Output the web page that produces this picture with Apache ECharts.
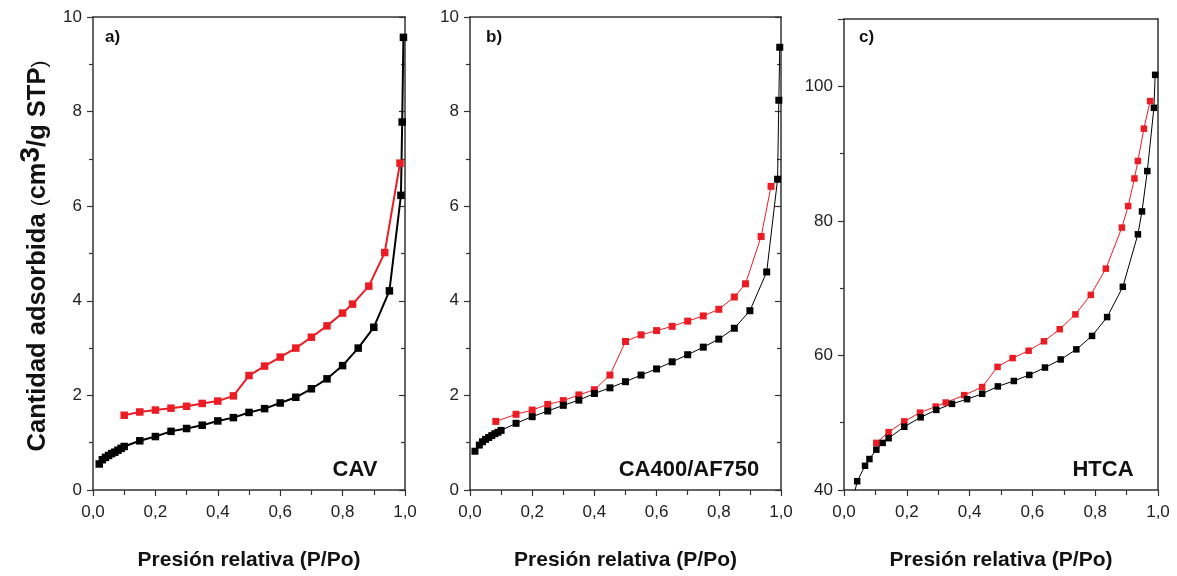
<!DOCTYPE html>
<html>
<head>
<meta charset="utf-8">
<script src="https://cdn.jsdelivr.net/npm/echarts@6/dist/echarts.min.js"></script>
<style>
html,body{margin:0;padding:0;background:#fff;}
#chart{width:1177px;height:576px;}
</style>
</head>
<body>
<div id="chart"></div>
<script>
// ---- Data ----
var xTickLabels = ['0,0', '0,2', '0,4', '0,6', '0,8', '1,0'];
var panelLabels = ['a)', 'b)', 'c)'];
var sampleNames = ['CAV', 'CA400/AF750', 'HTCA'];

// Panel a (CAV)
var cavAdsX = [0.02, 0.03, 0.04, 0.05, 0.06, 0.07, 0.08, 0.09, 0.10, 0.15, 0.20, 0.25, 0.30, 0.35, 0.40, 0.45, 0.50, 0.55, 0.60, 0.65, 0.70, 0.75, 0.80, 0.85, 0.90, 0.95, 0.987, 0.991, 0.995];
var cavAdsY = [0.55, 0.64, 0.69, 0.73, 0.77, 0.80, 0.84, 0.88, 0.92, 1.04, 1.13, 1.24, 1.30, 1.37, 1.46, 1.53, 1.64, 1.72, 1.84, 1.96, 2.14, 2.35, 2.63, 3.00, 3.44, 4.21, 6.23, 7.78, 9.57];
var cavDesX = [0.10, 0.15, 0.20, 0.25, 0.30, 0.35, 0.40, 0.45, 0.50, 0.55, 0.60, 0.65, 0.70, 0.75, 0.80, 0.832, 0.884, 0.935, 0.984];
var cavDesY = [1.58, 1.65, 1.69, 1.73, 1.77, 1.83, 1.88, 1.99, 2.42, 2.62, 2.81, 3.00, 3.23, 3.47, 3.74, 3.93, 4.31, 5.02, 6.91];

// Panel b (CA400/AF750)
var caAdsX = [0.016, 0.03, 0.04, 0.05, 0.06, 0.07, 0.08, 0.09, 0.10, 0.148, 0.20, 0.25, 0.30, 0.35, 0.40, 0.45, 0.50, 0.55, 0.60, 0.65, 0.70, 0.75, 0.80, 0.85, 0.90, 0.954, 0.989, 0.993, 0.996];
var caAdsY = [0.82, 0.95, 1.02, 1.07, 1.11, 1.15, 1.19, 1.22, 1.26, 1.41, 1.55, 1.67, 1.79, 1.90, 2.04, 2.16, 2.29, 2.43, 2.56, 2.71, 2.86, 3.02, 3.19, 3.42, 3.79, 4.61, 6.57, 8.24, 9.36];
var caDesX = [0.083, 0.148, 0.20, 0.25, 0.30, 0.35, 0.40, 0.45, 0.50, 0.55, 0.60, 0.65, 0.70, 0.75, 0.80, 0.85, 0.886, 0.936, 0.968];
var caDesY = [1.45, 1.60, 1.69, 1.81, 1.89, 2.01, 2.12, 2.43, 3.14, 3.28, 3.37, 3.46, 3.57, 3.68, 3.82, 4.08, 4.36, 5.36, 6.42];

// Panel c (HTCA)
var htAdsX = [0.030, 0.042, 0.067, 0.081, 0.103, 0.123, 0.142, 0.192, 0.244, 0.294, 0.344, 0.392, 0.440, 0.490, 0.541, 0.590, 0.640, 0.690, 0.740, 0.790, 0.838, 0.888, 0.936, 0.949, 0.966, 0.987, 0.991];
var htAdsY = [38.8, 41.3, 43.6, 44.6, 46.0, 47.0, 47.7, 49.4, 50.8, 51.9, 52.8, 53.5, 54.3, 55.4, 56.2, 57.1, 58.2, 59.4, 60.9, 62.9, 65.7, 70.2, 78.0, 81.4, 87.4, 96.8, 101.7];
var htDesX = [0.103, 0.142, 0.192, 0.242, 0.292, 0.324, 0.383, 0.440, 0.489, 0.537, 0.588, 0.637, 0.687, 0.737, 0.786, 0.834, 0.885, 0.905, 0.925, 0.936, 0.955, 0.975];
var htDesY = [47.0, 48.6, 50.2, 51.5, 52.4, 53.0, 54.1, 55.3, 58.3, 59.6, 60.7, 62.1, 63.9, 66.1, 69.0, 72.9, 79.0, 82.2, 86.3, 88.9, 93.7, 97.8];

function zip(xs, ys) { return xs.map(function (x, i) { return [x, ys[i]]; }); }

var RED = '#ec1c24';
var BLK = '#000000';
var AXC = '#333333';
var FONT = '"Liberation Sans", Arial, sans-serif';

var grids = [
  { left: 93, right: 772, top: 17, bottom: 83 },
  { left: 470, right: 396, top: 17, bottom: 83 },
  { left: 844, right: 19, top: 19, bottom: 83 }
];
var yRanges = [[0, 10, 2], [0, 10, 2], [40, 110, 20]];
var rightTicks = [true, true, false];
var lineW = [2, 1, 1];
var symS = [7.5, 7, 6.5];

var xAxes = [], yAxes = [], series = [];
for (var i = 0; i < 3; i++) {
  xAxes.push({
    type: 'value', gridIndex: i, min: 0, max: 1, interval: 0.2, position: 'bottom',
    axisLine: { show: true, onZero: false, lineStyle: { color: AXC, width: 1.5 } },
    axisTick: { show: true, length: 6, lineStyle: { color: AXC, width: 1.2 } },
    minorTick: { show: true, splitNumber: 2, length: 5, lineStyle: { color: AXC, width: 1.2 } },
    splitLine: { show: false },
    axisLabel: { fontFamily: FONT, fontSize: 17, color: '#222', margin: 14,
      formatter: function (v) { return xTickLabels[Math.round(v / 0.2)]; } },
    name: 'Presión relativa (P/Po)', nameLocation: 'middle', nameGap: 60,
    nameTextStyle: { fontFamily: FONT, fontSize: 21, fontWeight: 'bold', color: '#111' }
  });
  xAxes.push({
    type: 'value', gridIndex: i, min: 0, max: 1, position: 'top',
    axisLine: { show: true, onZero: false, lineStyle: { color: AXC, width: 1.5 } },
    axisTick: { show: false }, axisLabel: { show: false }, splitLine: { show: false }
  });
  var r = yRanges[i];
  yAxes.push({
    type: 'value', gridIndex: i, min: r[0], max: r[1], interval: r[2], position: 'left',
    axisLine: { show: true, onZero: false, lineStyle: { color: AXC, width: 1.5 } },
    axisTick: { show: true, length: 6, lineStyle: { color: AXC, width: 1.2 } },
    minorTick: { show: true, splitNumber: 2, length: 4, lineStyle: { color: AXC, width: 1.2 } },
    splitLine: { show: false },
    axisLabel: { fontFamily: FONT, fontSize: 17, color: '#222', margin: 11,
      showMaxLabel: (i < 2) }
  });
  yAxes.push({
    type: 'value', gridIndex: i, min: r[0], max: r[1], interval: r[2], position: 'right',
    axisLine: { show: true, onZero: false, lineStyle: { color: AXC, width: 1.5 } },
    axisTick: { show: rightTicks[i], inside: true, length: 6, lineStyle: { color: AXC, width: 1.2 } },
    minorTick: { show: rightTicks[i], splitNumber: 2, length: 4, lineStyle: { color: AXC, width: 1.2 } },
    splitLine: { show: false }, axisLabel: { show: false }
  });
}

var desSets = [zip(cavDesX, cavDesY), zip(caDesX, caDesY), zip(htDesX, htDesY)];
var adsSets = [zip(cavAdsX, cavAdsY), zip(caAdsX, caAdsY), zip(htAdsX, htAdsY)];
for (var k = 0; k < 3; k++) {
  series.push({
    type: 'line', xAxisIndex: 2 * k, yAxisIndex: 2 * k, data: desSets[k],
    symbol: 'rect', symbolSize: symS[k], clip: true,
    lineStyle: { color: RED, width: lineW[k] }, itemStyle: { color: RED }
  });
  series.push({
    type: 'line', xAxisIndex: 2 * k, yAxisIndex: 2 * k, data: adsSets[k],
    symbol: 'rect', symbolSize: symS[k], clip: true,
    lineStyle: { color: BLK, width: lineW[k] }, itemStyle: { color: BLK }
  });
}

var graphics = [];
var labelX = [105, 486, 859];
for (var j = 0; j < 3; j++) {
  graphics.push({ type: 'text', x: labelX[j], y: 37,
    style: { text: panelLabels[j], font: 'bold 17px ' + FONT, fill: '#111', textAlign: 'left', textVerticalAlign: 'middle' } });
}
var nameCX = [355, 689, 1103];
for (var j2 = 0; j2 < 3; j2++) {
  graphics.push({ type: 'text', x: nameCX[j2], y: 470,
    style: { text: sampleNames[j2], font: 'bold 22px ' + FONT, fill: '#111', textAlign: 'center', textVerticalAlign: 'middle' } });
}
graphics.push({
  type: 'text', x: 34, y: 256, rotation: Math.PI / 2,
  style: {
    text: '{b|Cantidad adsorbida }{p|(}{b|cm}{s|3}{b|/g STP}{p|)}',
    textAlign: 'center', textVerticalAlign: 'middle', fill: '#111',
    rich: {
      b: { fontFamily: FONT, fontSize: 25.5, fontWeight: 'bold', fill: '#111', lineHeight: 34, verticalAlign: 'bottom' },
      p: { fontFamily: FONT, fontSize: 21, fontWeight: 'normal', fill: '#111', lineHeight: 34, verticalAlign: 'bottom' },
      s: { fontFamily: FONT, fontSize: 28, fontWeight: 'bold', fill: '#111', lineHeight: 24, verticalAlign: 'top' }
    }
  }
});

var chart = echarts.init(document.getElementById('chart'), null, { renderer: 'canvas' });
chart.setOption({
  animation: false,
  backgroundColor: '#ffffff',
  grid: grids,
  xAxis: xAxes,
  yAxis: yAxes,
  series: series,
  graphic: graphics
});
</script>
</body>
</html>
